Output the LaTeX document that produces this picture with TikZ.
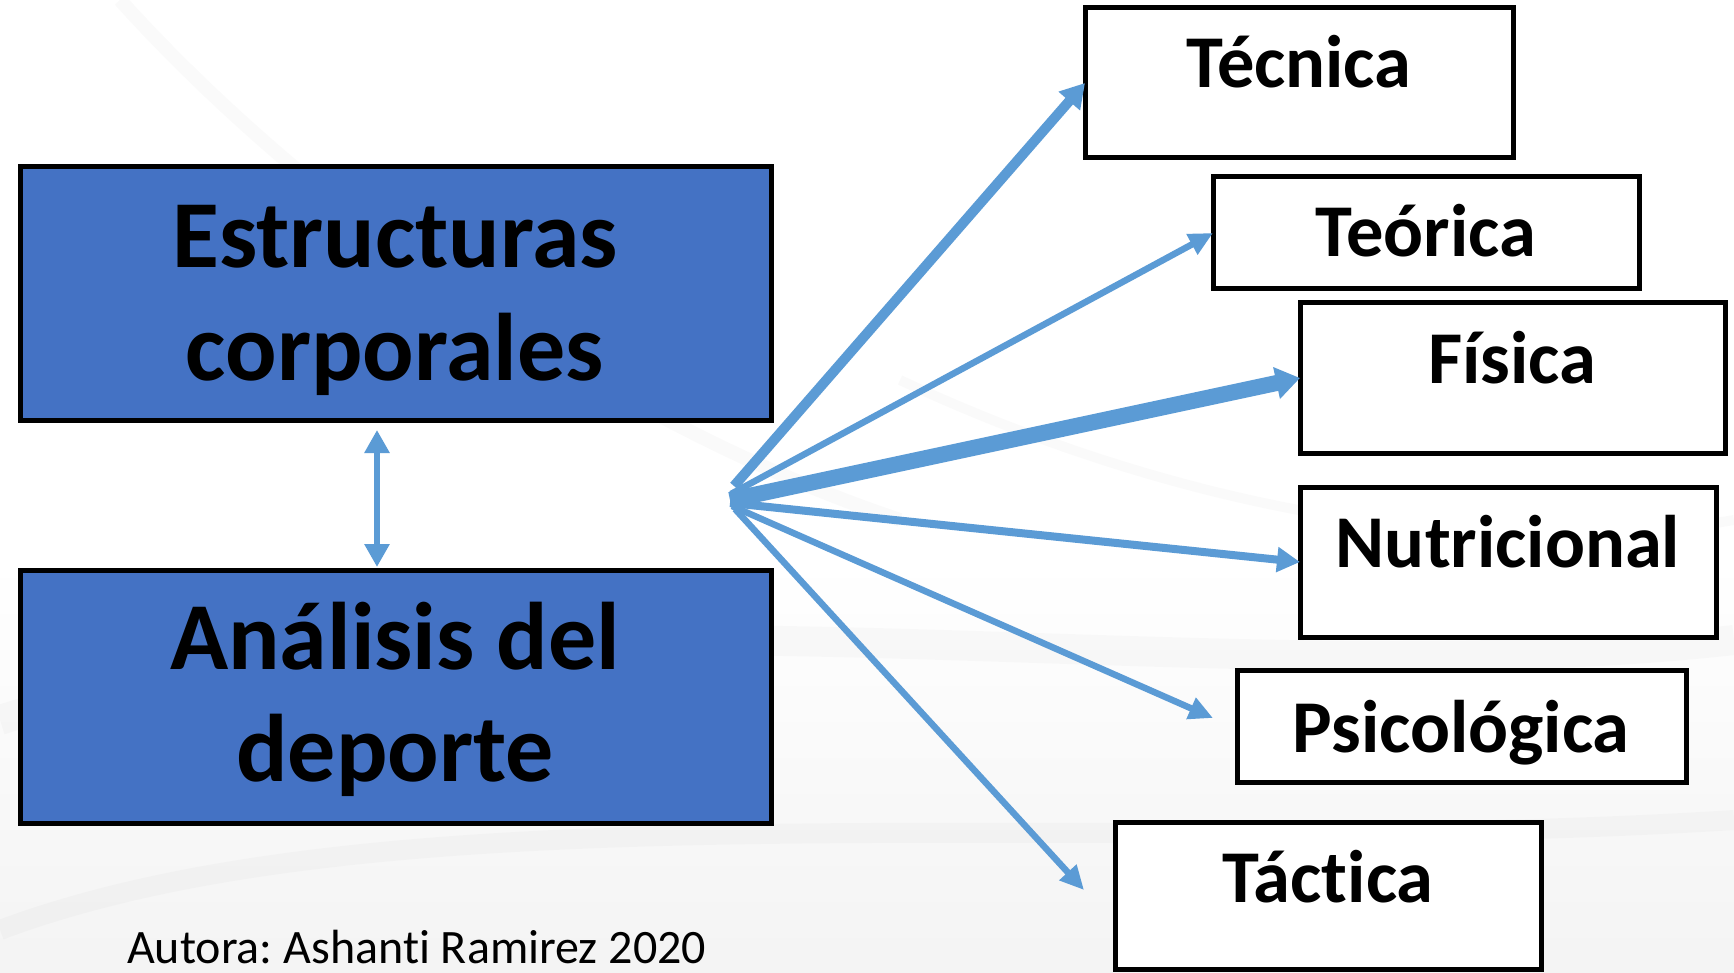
\documentclass[tikz,border=0pt]{standalone}
\usepackage{fontspec}
\setmainfont{Carlito}[Ligatures={NoCommon}]
\usetikzlibrary{arrows.meta,calc}
\definecolor{boxblue}{HTML}{4472C4}
\definecolor{arrblue}{HTML}{5B9BD5}
\frenchspacing
\begin{document}
\begin{tikzpicture}[x=1pt,y=-1pt,
  bigbox/.style={draw=black,line width=5pt,fill=boxblue,inner sep=0pt,outer sep=0pt,anchor=north west},
  smallbox/.style={draw=black,line width=5pt,fill=white,inner sep=0pt,outer sep=0pt,anchor=north west},
  bigtxt/.style={font=\fontsize{96}{96}\selectfont\bfseries,inner sep=0pt,anchor=base},
  smalltxt/.style={font=\fontsize{74.5}{74.5}\selectfont\bfseries,inner sep=0pt,anchor=base},
  conn/.style={draw=arrblue,line cap=butt},
  swoosh/.style={draw=gray,opacity=0.035}
]
\useasboundingbox (0,0) rectangle (1734,973);
% background
\fill[white] (0,0) rectangle (1734,973);
\shade[top color=white,bottom color=gray!9] (0,560) rectangle (1734,973);
\draw[swoosh,line width=14pt] (120,0) .. controls (300,200) and (600,420) .. (900,520);
\draw[swoosh,line width=30pt] (0,720) .. controls (500,560) and (1200,700) .. (1734,640);
\draw[swoosh,line width=20pt] (0,930) .. controls (400,780) and (1100,860) .. (1734,820);
\draw[swoosh,line width=10pt] (900,380) .. controls (1200,520) and (1500,560) .. (1734,520);

% left boxes
\node[bigbox,minimum width=751pt,minimum height=253pt] (es) at (20,167) {};
\node[bigbox,minimum width=751pt,minimum height=253pt] (an) at (20,570) {};
\node[bigtxt] (es1) at (395,268) {Estructuras};
\node[bigtxt] (es2) at (395,380) {corporales};
\node[bigtxt] (an1) at (395,669) {Análisis del};
\node[bigtxt] (an2) at (395,781) {deporte};

% right boxes
\node[smallbox,minimum width=428pt,minimum height=150pt] (tec) at (1085,8) {};
\node[smallbox,minimum width=426pt,minimum height=112pt] (teo) at (1213,177) {};
\node[smallbox,minimum width=425pt,minimum height=150pt] (fis) at (1300,303) {};
\node[smallbox,minimum width=416pt,minimum height=150pt] (nut) at (1300,487) {};
\node[smallbox,minimum width=449pt,minimum height=112pt] (psi) at (1237,670) {};
\node[smallbox,minimum width=426pt,minimum height=147pt] (tac) at (1115,822) {};

\node[smalltxt] (tect) at (1299,88) {Técnica};
\node[smalltxt] (teot) at (1426,257) {Teórica};
\node[smalltxt] (fist) at (1512,383) {Física};
\node[smalltxt] (nutt) at (1508,567) {Nutricional};
\node[smalltxt] (psit) at (1461,752) {Psicológica};
\node[smalltxt] (tact) at (1328,902) {Táctica};

% author
\node[font=\fontsize{48}{48}\selectfont,inner sep=0pt,anchor=base west] (aut) at (127,963) {Autora: Ashanti Ramirez 2020};

% connectors
\coordinate (o1) at (734,486);
\coordinate (o2) at (731,494);
\coordinate (o3) at (730,500);
\coordinate (o4) at (730,503);
\coordinate (o5) at (732,506);
\coordinate (o6) at (735,509);
\coordinate (psiend) at (1213,718);
\coordinate (tacend) at (1084,890);
\coordinate (vtop) at (377,430);
\coordinate (vbot) at (377,567);

\draw[conn,line width=6pt,{Triangle[length=23pt,width=24pt]}-{Triangle[length=23pt,width=24pt]}] (vtop) -- (vbot);
\draw[conn,line width=10pt,-{Triangle[length=24pt,width=27pt]}] (o1) -- (tec.west);
\draw[conn,line width=6.5pt,-{Triangle[length=24pt,width=22pt]}] (o2) -- (teo.west);
\draw[conn,line width=16pt,-{Triangle[length=24pt,width=31pt]}] (o3) -- (fis.west);
\draw[conn,line width=8pt,-{Triangle[length=23pt,width=24pt]}] (o4) -- (nut.west);
\draw[conn,line width=6.5pt,-{Triangle[length=24pt,width=22pt]}] (o5) -- (psiend);
\draw[conn,line width=6.5pt,-{Triangle[length=24pt,width=22pt]}] (o6) -- (tacend);
\end{tikzpicture}
\end{document}
